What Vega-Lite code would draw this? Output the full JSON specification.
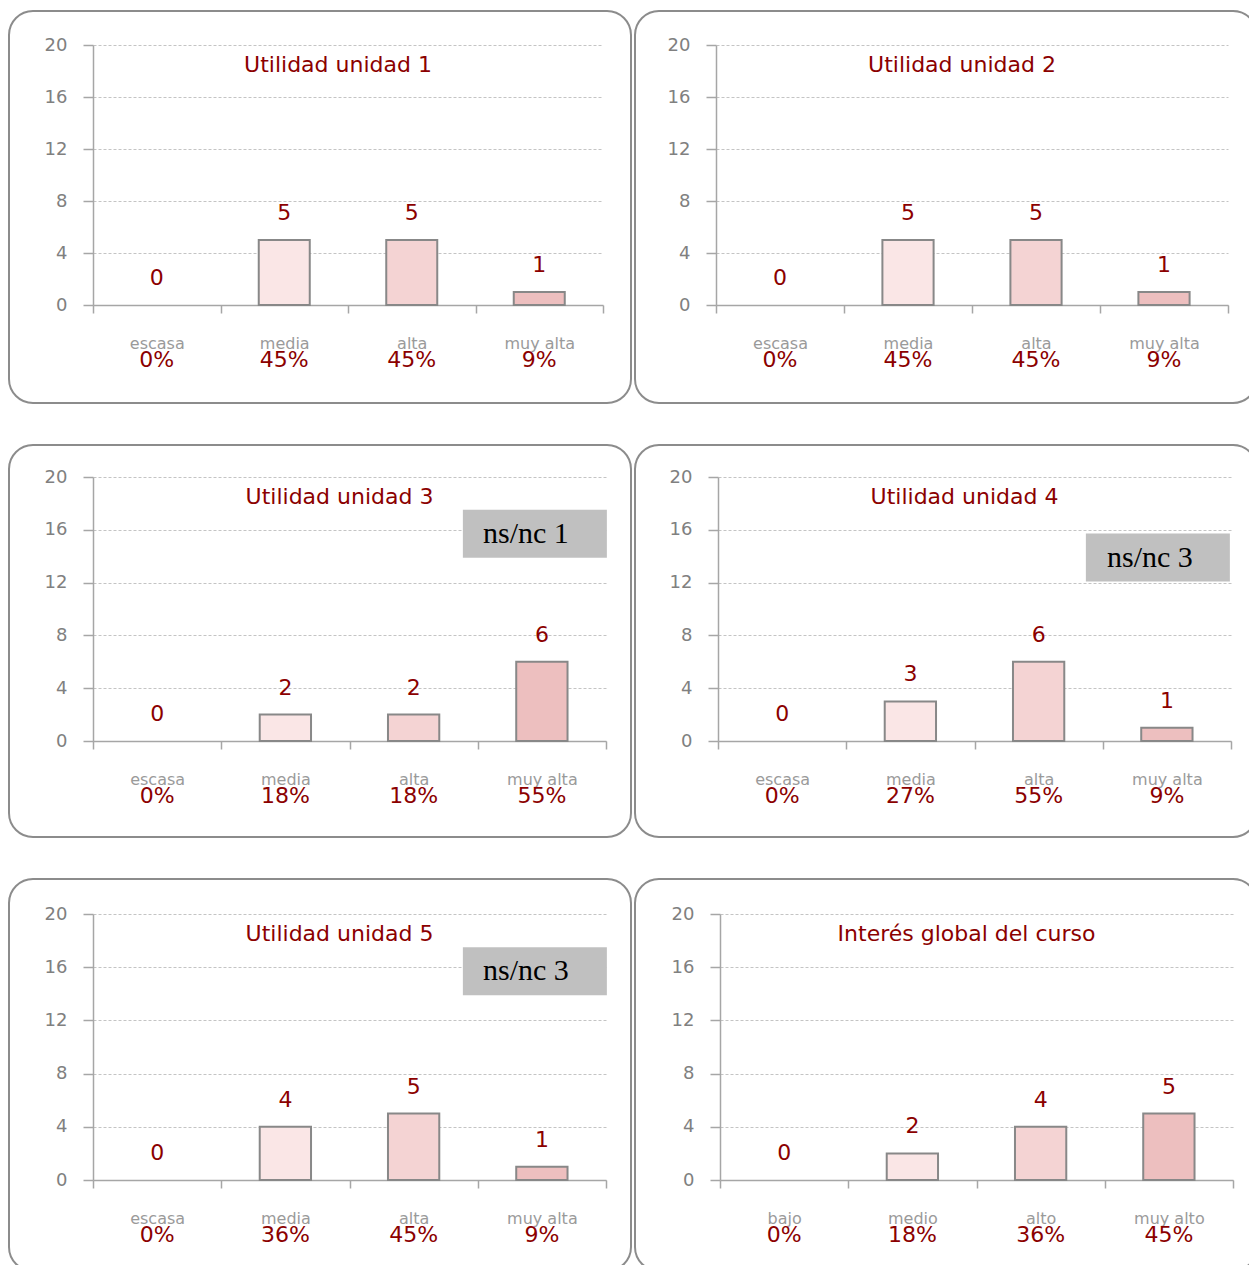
{
  "$schema": "https://vega.github.io/schema/vega-lite/v6.json",
  "padding": {"left": 8, "top": 10, "right": 0, "bottom": 0},
  "background": "white",
  "datasets": {
    "u1": [
      {"cat": "escasa", "n": 0, "pct": "0%"},
      {"cat": "media", "n": 5, "pct": "45%"},
      {"cat": "alta", "n": 5, "pct": "45%"},
      {"cat": "muy alta", "n": 1, "pct": "9%"}
    ],
    "u2": [
      {"cat": "escasa", "n": 0, "pct": "0%"},
      {"cat": "media", "n": 5, "pct": "45%"},
      {"cat": "alta", "n": 5, "pct": "45%"},
      {"cat": "muy alta", "n": 1, "pct": "9%"}
    ],
    "u3": [
      {"cat": "escasa", "n": 0, "pct": "0%"},
      {"cat": "media", "n": 2, "pct": "18%"},
      {"cat": "alta", "n": 2, "pct": "18%"},
      {"cat": "muy alta", "n": 6, "pct": "55%"}
    ],
    "u4": [
      {"cat": "escasa", "n": 0, "pct": "0%"},
      {"cat": "media", "n": 3, "pct": "27%"},
      {"cat": "alta", "n": 6, "pct": "55%"},
      {"cat": "muy alta", "n": 1, "pct": "9%"}
    ],
    "u5": [
      {"cat": "escasa", "n": 0, "pct": "0%"},
      {"cat": "media", "n": 4, "pct": "36%"},
      {"cat": "alta", "n": 5, "pct": "45%"},
      {"cat": "muy alta", "n": 1, "pct": "9%"}
    ],
    "g": [
      {"cat": "bajo", "n": 0, "pct": "0%"},
      {"cat": "medio", "n": 2, "pct": "18%"},
      {"cat": "alto", "n": 4, "pct": "36%"},
      {"cat": "muy alto", "n": 5, "pct": "45%"}
    ]
  },
  "spacing": 40,
  "resolve": {"scale": {"x": "independent", "y": "independent", "color": "independent"}, "axis": {"x": "independent", "y": "independent"}},
  "vconcat": [
    {
      "spacing": 2,
      "resolve": {"scale": {"x": "independent", "y": "independent", "color": "independent"}, "axis": {"x": "independent", "y": "independent"}},
      "hconcat": [
        {
          "width": 622, "height": 392,
          "data": {"name": "u1"},
          "encoding": {
            "x": {"field": "cat", "type": "nominal", "scale": {"domain": ["escasa", "media", "alta", "muy alta"], "range": [84, 594], "paddingInner": 0, "paddingOuter": 0}, "axis": {"title": null, "offset": -98}},
            "y": {"field": "n", "type": "quantitative", "scale": {"domain": [0, 20], "range": [294, 34]}, "axis": {"title": null, "offset": -84, "values": [0, 4, 8, 12, 16, 20]}}
          },
          "layer": [
            {"transform": [{"filter": "datum.n > 0"}], "mark": {"type": "bar", "width": {"band": 0.4}, "stroke": "#888888", "strokeWidth": 2, "opacity": 1},
             "encoding": {"color": {"field": "cat", "type": "nominal", "legend": null, "scale": {"domain": ["escasa", "media", "alta", "muy alta", "bajo", "medio", "alto", "muy alto"], "range": ["#ffffff", "#fae6e6", "#f4d3d3", "#edbfbf", "#ffffff", "#fae6e6", "#f4d3d3", "#edbfbf"]}}}},
            {"mark": {"type": "text", "dy": -27, "fontSize": 22, "color": "#8b0000"}, "encoding": {"text": {"field": "n", "type": "quantitative"}}},
            {"mark": {"type": "text", "dy": 55, "fontSize": 22, "color": "#8b0000"}, "encoding": {"y": {"datum": 0}, "text": {"field": "pct", "type": "nominal"}}},
            {"transform": [{"filter": "datum.cat == 'alta'"}], "mark": {"type": "text", "dx": -10, "fontSize": 22, "color": "#8b0000"}, "encoding": {"x": {"field": "cat", "type": "nominal", "bandPosition": 0}, "y": {"datum": 18.5}, "text": {"value": "Utilidad unidad 1"}}}
          ]
        },
        {
          "width": 622, "height": 392,
          "data": {"name": "u2"},
          "encoding": {
            "x": {"field": "cat", "type": "nominal", "scale": {"domain": ["escasa", "media", "alta", "muy alta"], "range": [81, 593], "paddingInner": 0, "paddingOuter": 0}, "axis": {"title": null, "offset": -98}},
            "y": {"field": "n", "type": "quantitative", "scale": {"domain": [0, 20], "range": [294, 34]}, "axis": {"title": null, "offset": -81, "values": [0, 4, 8, 12, 16, 20]}}
          },
          "layer": [
            {"transform": [{"filter": "datum.n > 0"}], "mark": {"type": "bar", "width": {"band": 0.4}, "stroke": "#888888", "strokeWidth": 2, "opacity": 1},
             "encoding": {"color": {"field": "cat", "type": "nominal", "legend": null, "scale": {"domain": ["escasa", "media", "alta", "muy alta", "bajo", "medio", "alto", "muy alto"], "range": ["#ffffff", "#fae6e6", "#f4d3d3", "#edbfbf", "#ffffff", "#fae6e6", "#f4d3d3", "#edbfbf"]}}}},
            {"mark": {"type": "text", "dy": -27, "fontSize": 22, "color": "#8b0000"}, "encoding": {"text": {"field": "n", "type": "quantitative"}}},
            {"mark": {"type": "text", "dy": 55, "fontSize": 22, "color": "#8b0000"}, "encoding": {"y": {"datum": 0}, "text": {"field": "pct", "type": "nominal"}}},
            {"transform": [{"filter": "datum.cat == 'alta'"}], "mark": {"type": "text", "dx": -10, "fontSize": 22, "color": "#8b0000"}, "encoding": {"x": {"field": "cat", "type": "nominal", "bandPosition": 0}, "y": {"datum": 18.5}, "text": {"value": "Utilidad unidad 2"}}}
          ]
        }
      ]
    },
    {
      "spacing": 2,
      "resolve": {"scale": {"x": "independent", "y": "independent", "color": "independent"}, "axis": {"x": "independent", "y": "independent"}},
      "hconcat": [
        {
          "width": 622, "height": 392,
          "data": {"name": "u3"},
          "encoding": {
            "x": {"field": "cat", "type": "nominal", "scale": {"domain": ["escasa", "media", "alta", "muy alta"], "range": [84, 597], "paddingInner": 0, "paddingOuter": 0}, "axis": {"title": null, "offset": -96}},
            "y": {"field": "n", "type": "quantitative", "scale": {"domain": [0, 20], "range": [296, 32]}, "axis": {"title": null, "offset": -84, "values": [0, 4, 8, 12, 16, 20]}}
          },
          "layer": [
            {"transform": [{"filter": "datum.n > 0"}], "mark": {"type": "bar", "width": {"band": 0.4}, "stroke": "#888888", "strokeWidth": 2, "opacity": 1},
             "encoding": {"color": {"field": "cat", "type": "nominal", "legend": null, "scale": {"domain": ["escasa", "media", "alta", "muy alta", "bajo", "medio", "alto", "muy alto"], "range": ["#ffffff", "#fae6e6", "#f4d3d3", "#edbfbf", "#ffffff", "#fae6e6", "#f4d3d3", "#edbfbf"]}}}},
            {"mark": {"type": "text", "dy": -27, "fontSize": 22, "color": "#8b0000"}, "encoding": {"text": {"field": "n", "type": "quantitative"}}},
            {"mark": {"type": "text", "dy": 55, "fontSize": 22, "color": "#8b0000"}, "encoding": {"y": {"datum": 0}, "text": {"field": "pct", "type": "nominal"}}},
            {"transform": [{"filter": "datum.cat == 'alta'"}], "mark": {"type": "text", "dx": -10, "fontSize": 22, "color": "#8b0000"}, "encoding": {"x": {"field": "cat", "type": "nominal", "bandPosition": 0}, "y": {"datum": 18.5}, "text": {"value": "Utilidad unidad 3"}}},
            {"transform": [{"filter": "datum.cat == 'muy alta'"}], "mark": {"type": "point", "shape": "M-1,-0.333L1,-0.333L1,0.333L-1,0.333Z", "size": 20736, "filled": true, "color": "#c0c0c0", "opacity": 1, "strokeWidth": 0, "xOffset": -7}, "encoding": {"y": {"datum": 15.7}}},
            {"transform": [{"filter": "datum.cat == 'muy alta'"}], "mark": {"type": "text", "dx": -16, "fontSize": 30, "font": "Liberation Serif", "color": "#000000"}, "encoding": {"y": {"datum": 15.7}, "text": {"value": "ns/nc 1"}}}
          ]
        },
        {
          "width": 622, "height": 392,
          "data": {"name": "u4"},
          "encoding": {
            "x": {"field": "cat", "type": "nominal", "scale": {"domain": ["escasa", "media", "alta", "muy alta"], "range": [83, 596], "paddingInner": 0, "paddingOuter": 0}, "axis": {"title": null, "offset": -96}},
            "y": {"field": "n", "type": "quantitative", "scale": {"domain": [0, 20], "range": [296, 32]}, "axis": {"title": null, "offset": -83, "values": [0, 4, 8, 12, 16, 20]}}
          },
          "layer": [
            {"transform": [{"filter": "datum.n > 0"}], "mark": {"type": "bar", "width": {"band": 0.4}, "stroke": "#888888", "strokeWidth": 2, "opacity": 1},
             "encoding": {"color": {"field": "cat", "type": "nominal", "legend": null, "scale": {"domain": ["escasa", "media", "alta", "muy alta", "bajo", "medio", "alto", "muy alto"], "range": ["#ffffff", "#fae6e6", "#f4d3d3", "#edbfbf", "#ffffff", "#fae6e6", "#f4d3d3", "#edbfbf"]}}}},
            {"mark": {"type": "text", "dy": -27, "fontSize": 22, "color": "#8b0000"}, "encoding": {"text": {"field": "n", "type": "quantitative"}}},
            {"mark": {"type": "text", "dy": 55, "fontSize": 22, "color": "#8b0000"}, "encoding": {"y": {"datum": 0}, "text": {"field": "pct", "type": "nominal"}}},
            {"transform": [{"filter": "datum.cat == 'alta'"}], "mark": {"type": "text", "dx": -10, "fontSize": 22, "color": "#8b0000"}, "encoding": {"x": {"field": "cat", "type": "nominal", "bandPosition": 0}, "y": {"datum": 18.5}, "text": {"value": "Utilidad unidad 4"}}},
            {"transform": [{"filter": "datum.cat == 'muy alta'"}], "mark": {"type": "point", "shape": "M-1,-0.333L1,-0.333L1,0.333L-1,0.333Z", "size": 20736, "filled": true, "color": "#c0c0c0", "opacity": 1, "strokeWidth": 0, "xOffset": -9}, "encoding": {"y": {"datum": 13.9}}},
            {"transform": [{"filter": "datum.cat == 'muy alta'"}], "mark": {"type": "text", "dx": -17, "fontSize": 30, "font": "Liberation Serif", "color": "#000000"}, "encoding": {"y": {"datum": 13.9}, "text": {"value": "ns/nc 3"}}}
          ]
        }
      ]
    },
    {
      "spacing": 2,
      "resolve": {"scale": {"x": "independent", "y": "independent", "color": "independent"}, "axis": {"x": "independent", "y": "independent"}},
      "hconcat": [
        {
          "width": 622, "height": 392,
          "data": {"name": "u5"},
          "encoding": {
            "x": {"field": "cat", "type": "nominal", "scale": {"domain": ["escasa", "media", "alta", "muy alta"], "range": [84, 597], "paddingInner": 0, "paddingOuter": 0}, "axis": {"title": null, "offset": -91}},
            "y": {"field": "n", "type": "quantitative", "scale": {"domain": [0, 20], "range": [301, 35]}, "axis": {"title": null, "offset": -84, "values": [0, 4, 8, 12, 16, 20]}}
          },
          "layer": [
            {"transform": [{"filter": "datum.n > 0"}], "mark": {"type": "bar", "width": {"band": 0.4}, "stroke": "#888888", "strokeWidth": 2, "opacity": 1},
             "encoding": {"color": {"field": "cat", "type": "nominal", "legend": null, "scale": {"domain": ["escasa", "media", "alta", "muy alta", "bajo", "medio", "alto", "muy alto"], "range": ["#ffffff", "#fae6e6", "#f4d3d3", "#edbfbf", "#ffffff", "#fae6e6", "#f4d3d3", "#edbfbf"]}}}},
            {"mark": {"type": "text", "dy": -27, "fontSize": 22, "color": "#8b0000"}, "encoding": {"text": {"field": "n", "type": "quantitative"}}},
            {"mark": {"type": "text", "dy": 55, "fontSize": 22, "color": "#8b0000"}, "encoding": {"y": {"datum": 0}, "text": {"field": "pct", "type": "nominal"}}},
            {"transform": [{"filter": "datum.cat == 'alta'"}], "mark": {"type": "text", "dx": -10, "fontSize": 22, "color": "#8b0000"}, "encoding": {"x": {"field": "cat", "type": "nominal", "bandPosition": 0}, "y": {"datum": 18.5}, "text": {"value": "Utilidad unidad 5"}}},
            {"transform": [{"filter": "datum.cat == 'muy alta'"}], "mark": {"type": "point", "shape": "M-1,-0.333L1,-0.333L1,0.333L-1,0.333Z", "size": 20736, "filled": true, "color": "#c0c0c0", "opacity": 1, "strokeWidth": 0, "xOffset": -7}, "encoding": {"y": {"datum": 15.7}}},
            {"transform": [{"filter": "datum.cat == 'muy alta'"}], "mark": {"type": "text", "dx": -16, "fontSize": 30, "font": "Liberation Serif", "color": "#000000"}, "encoding": {"y": {"datum": 15.7}, "text": {"value": "ns/nc 3"}}}
          ]
        },
        {
          "width": 622, "height": 392,
          "data": {"name": "g"},
          "encoding": {
            "x": {"field": "cat", "type": "nominal", "scale": {"domain": ["bajo", "medio", "alto", "muy alto"], "range": [85, 598], "paddingInner": 0, "paddingOuter": 0}, "axis": {"title": null, "offset": -91}},
            "y": {"field": "n", "type": "quantitative", "scale": {"domain": [0, 20], "range": [301, 35]}, "axis": {"title": null, "offset": -85, "values": [0, 4, 8, 12, 16, 20]}}
          },
          "layer": [
            {"transform": [{"filter": "datum.n > 0"}], "mark": {"type": "bar", "width": {"band": 0.4}, "stroke": "#888888", "strokeWidth": 2, "opacity": 1},
             "encoding": {"color": {"field": "cat", "type": "nominal", "legend": null, "scale": {"domain": ["escasa", "media", "alta", "muy alta", "bajo", "medio", "alto", "muy alto"], "range": ["#ffffff", "#fae6e6", "#f4d3d3", "#edbfbf", "#ffffff", "#fae6e6", "#f4d3d3", "#edbfbf"]}}}},
            {"mark": {"type": "text", "dy": -27, "fontSize": 22, "color": "#8b0000"}, "encoding": {"text": {"field": "n", "type": "quantitative"}}},
            {"mark": {"type": "text", "dy": 55, "fontSize": 22, "color": "#8b0000"}, "encoding": {"y": {"datum": 0}, "text": {"field": "pct", "type": "nominal"}}},
            {"transform": [{"filter": "datum.cat == 'alto'"}], "mark": {"type": "text", "dx": -10, "fontSize": 22, "color": "#8b0000"}, "encoding": {"x": {"field": "cat", "type": "nominal", "bandPosition": 0}, "y": {"datum": 18.5}, "text": {"value": "Interés global del curso"}}}
          ]
        }
      ]
    }
  ],
  "config": {
    "font": "DejaVu Sans",
    "view": {"stroke": "#8c8c8c", "strokeWidth": 2, "cornerRadius": 24, "fill": "white"},
    "axis": {"domainColor": "#a6a6a6", "domainWidth": 1.5, "tickColor": "#a6a6a6", "tickWidth": 1.5, "labelColor": "#808080", "labelFont": "DejaVu Sans"},
    "axisX": {"tickBand": "extent", "tickSize": 8, "labelPadding": 22, "labelAngle": 0, "labelFontSize": 16, "grid": false, "labelColor": "#9a9a9a"},
    "axisY": {"tickSize": 10, "labelPadding": 16, "labelFontSize": 18, "grid": true, "gridColor": "#c4c4c4", "gridDash": [3, 2], "gridWidth": 1}
  }
}
